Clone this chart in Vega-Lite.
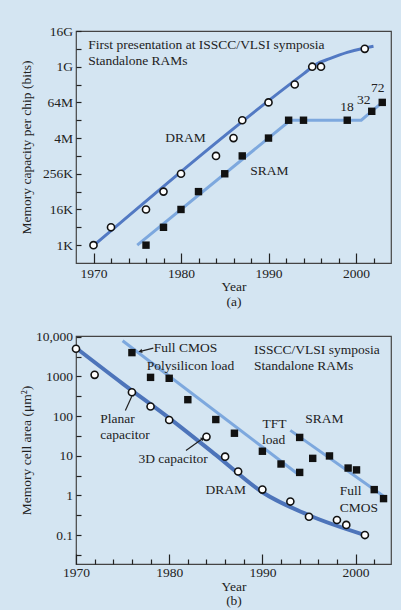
{
  "$schema": "https://vega.github.io/schema/vega-lite/v6.json",
  "background": "#d4e5f2",
  "padding": {"left": 18, "top": 23, "right": 8, "bottom": 2},
  "config": {
    "font": "Liberation Serif",
    "view": {"stroke": "#444", "strokeWidth": 1.2},
    "axis": {
      "labelFont": "Liberation Serif", "titleFont": "Liberation Serif",
      "labelFontSize": 13.5, "titleFontSize": 13.5, "titleFontWeight": "normal",
      "labelColor": "#222", "titleColor": "#222", "labelOverlap": false, "labelFlush": false,
      "domain": false, "grid": false, "tickColor": "#222", "tickWidth": 1.2
    },
    "text": {"font": "Liberation Serif", "fontSize": 13.5, "color": "#222"},
    "concat": {"spacing": 20}
  },
  "datasets": {
    "capDram": [
      {"year": 1970, "bits": 1024}, {"year": 1972, "bits": 4096}, {"year": 1976, "bits": 16384},
      {"year": 1978, "bits": 65536}, {"year": 1980, "bits": 262144}, {"year": 1984, "bits": 1048576},
      {"year": 1986, "bits": 4194304}, {"year": 1987, "bits": 16777216}, {"year": 1990, "bits": 67108864},
      {"year": 1993, "bits": 268435456}, {"year": 1995, "bits": 1073741824}, {"year": 1996, "bits": 1073741824},
      {"year": 2001, "bits": 4294967296}
    ],
    "capSram": [
      {"year": 1976, "bits": 1024}, {"year": 1978, "bits": 4096}, {"year": 1980, "bits": 16384},
      {"year": 1982, "bits": 65536}, {"year": 1985, "bits": 262144}, {"year": 1987, "bits": 1048576},
      {"year": 1990, "bits": 4194304}, {"year": 1992.3, "bits": 16777216}, {"year": 1994, "bits": 16777216},
      {"year": 1999, "bits": 16777216}, {"year": 2001.8, "bits": 33554432}, {"year": 2003, "bits": 67108864}
    ],
    "capFitDram": [
      {"year": 1970.3, "bits": 1176}, {"year": 1994, "bits": 616700000}, {"year": 1995.5, "bits": 1321900000},
      {"year": 1997, "bits": 2003700000}, {"year": 1999, "bits": 3255000000}, {"year": 2001, "bits": 4603400000},
      {"year": 2002, "bits": 5287600000}
    ],
    "capFitSram": [
      {"year": 1975, "bits": 1024}, {"year": 1992.5, "bits": 16777216}, {"year": 2000.6, "bits": 16777216},
      {"year": 2003, "bits": 67108864}
    ],
    "capText": [
      {"year": 1969.4, "bits": 5780000000, "text": "First presentation at ISSCC/VLSI symposia"},
      {"year": 1969.4, "bits": 1670000000, "text": "Standalone RAMs"},
      {"year": 1978.2, "bits": 4340000, "text": "DRAM"},
      {"year": 1987.9, "bits": 327000, "text": "SRAM"},
      {"year": 1998.2, "bits": 48100000, "text": "18"},
      {"year": 2000.1, "bits": 82600000, "text": "32"},
      {"year": 2001.7, "bits": 210000000, "text": "72"}
    ],
    "areaDram": [
      {"year": 1970, "area": 5000}, {"year": 1972, "area": 1100}, {"year": 1976, "area": 400},
      {"year": 1978, "area": 175}, {"year": 1980, "area": 80}, {"year": 1984, "area": 30},
      {"year": 1986, "area": 9.5}, {"year": 1987.4, "area": 4}, {"year": 1990, "area": 1.4},
      {"year": 1993, "area": 0.7}, {"year": 1995, "area": 0.29}, {"year": 1998, "area": 0.24},
      {"year": 1999, "area": 0.18}, {"year": 2001, "area": 0.1}
    ],
    "areaSram": [
      {"year": 1976, "area": 4000}, {"year": 1978, "area": 950}, {"year": 1980, "area": 900},
      {"year": 1982, "area": 260}, {"year": 1985, "area": 82}, {"year": 1987, "area": 37},
      {"year": 1990, "area": 13}, {"year": 1992, "area": 6.2}, {"year": 1994, "area": 3.8},
      {"year": 1994, "area": 29}, {"year": 1995.4, "area": 8.6}, {"year": 1997.2, "area": 9.9},
      {"year": 1999.2, "area": 4.9}, {"year": 2000.1, "area": 4.4}, {"year": 2002, "area": 1.4},
      {"year": 2003, "area": 0.83}
    ],
    "areaFitDram": [
      {"year": 1970, "area": 5250}, {"year": 1975, "area": 661}, {"year": 1980, "area": 89},
      {"year": 1985, "area": 10.5}, {"year": 1990, "area": 1.2}, {"year": 1995, "area": 0.316},
      {"year": 2001, "area": 0.1}
    ],
    "areaFitSram": [
      {"series": "poly", "year": 1975, "area": 7943}, {"series": "poly", "year": 1993.8, "area": 3.47},
      {"series": "cmos", "year": 1993, "area": 43.7}, {"series": "cmos", "year": 2003.2, "area": 0.89}
    ],
    "areaArrows": [
      {"year": 1976.9, "area": 4300, "year2": 1978.3, "area2": 5200, "angle": 256},
      {"year": 1976.1, "area": 363, "year2": 1975.3, "area2": 138, "angle": 25},
      {"year": 1983.6, "area": 27.3, "year2": 1981.8, "area2": 13.5, "angle": 55}
    ],
    "areaText": [
      {"year": 1978.35, "area": 5240, "text": "Full CMOS"},
      {"year": 1977.6, "area": 1807, "text": "Polysilicon load"},
      {"year": 1989.1, "area": 4760, "text": "ISSCC/VLSI symposia"},
      {"year": 1989.1, "area": 1870, "text": "Standalone RAMs"},
      {"year": 1972.6, "area": 85, "text": "Planar"},
      {"year": 1972.6, "area": 33, "text": "capacitor"},
      {"year": 1976.7, "area": 8.07, "text": "3D capacitor"},
      {"year": 1983.9, "area": 1.34, "text": "DRAM"},
      {"year": 1990.0, "area": 65, "text": "TFT"},
      {"year": 1989.95, "area": 25.7, "text": "load"},
      {"year": 1994.6, "area": 85, "text": "SRAM"},
      {"year": 1998.3, "area": 1.26, "text": "Full"},
      {"year": 1998.3, "area": 0.49, "text": "CMOS"}
    ]
  },
  "vconcat": [
    {
      "width": 315,
      "height": 232,
      "resolve": {"axis": {"x": "independent"}},
      "layer": [
        {
          "data": {"name": "capFitDram"},
          "mark": {"type": "line", "color": "#5279c3", "strokeWidth": 3, "interpolate": "monotone"},
          "encoding": {
            "x": {
              "field": "year", "type": "quantitative",
              "scale": {"domain": [1968, 2004], "nice": false, "zero": false},
              "axis": {
                "orient": "bottom",
                "values": [1970, 1980, 1990, 2000],
                "format": "d",
                "tickSize": -10,
                "labelPadding": 13.5,
                "title": ["Year", "(a)"],
                "titlePadding": -1,
                "titleLineHeight": 15
              }
            },
            "y": {
              "field": "bits", "type": "quantitative",
              "scale": {"type": "log", "base": 2, "domain": [256, 17179869184], "nice": false},
              "axis": {
                "values": [1024, 4096, 16384, 65536, 262144, 1048576, 4194304, 16777216, 67108864, 268435456, 1073741824, 4294967296, 17179869184],
                "labelExpr": "datum.value == 1024 ? '1K' : datum.value == 16384 ? '16K' : datum.value == 262144 ? '256K' : datum.value == 4194304 ? '4M' : datum.value == 67108864 ? '64M' : datum.value == 1073741824 ? '1G' : datum.value == 17179869184 ? '16G' : ''",
                "tickSize": -5,
                "labelPadding": 8.5,
                "title": "Memory capacity per chip (bits)",
                "titlePadding": 9
              }
            }
          }
        },
        {
          "data": {"name": "capFitSram"},
          "mark": {"type": "line", "color": "#7da8de", "strokeWidth": 3},
          "encoding": {
            "x": {
              "field": "year", "type": "quantitative",
              "axis": {
                "orient": "bottom",
                "values": [1972, 1974, 1976, 1978, 1982, 1984, 1986, 1988, 1992, 1994, 1996, 1998, 2002],
                "tickSize": -5,
                "labels": false,
                "title": null
              }
            },
            "y": {"field": "bits", "type": "quantitative"}
          }
        },
        {
          "data": {"name": "capSram"},
          "mark": {"type": "point", "shape": "square", "filled": true, "color": "#111", "size": 55, "opacity": 1},
          "encoding": {
            "x": {"field": "year", "type": "quantitative", "axis": null},
            "y": {"field": "bits", "type": "quantitative"}
          }
        },
        {
          "data": {"name": "capDram"},
          "mark": {"type": "point", "shape": "circle", "filled": true, "fill": "white", "stroke": "#111", "strokeWidth": 1.6, "size": 50, "opacity": 1},
          "encoding": {
            "x": {"field": "year", "type": "quantitative", "axis": null},
            "y": {"field": "bits", "type": "quantitative"}
          }
        },
        {
          "data": {"name": "capText"},
          "mark": {"type": "text", "align": "left", "baseline": "middle"},
          "encoding": {
            "x": {"field": "year", "type": "quantitative", "axis": null},
            "y": {"field": "bits", "type": "quantitative"},
            "text": {"field": "text"}
          }
        }
      ]
    },
    {
      "width": 315,
      "height": 228,
      "resolve": {"axis": {"x": "independent"}},
      "layer": [
        {
          "data": {"name": "areaFitDram"},
          "mark": {"type": "line", "color": "#4d74ba", "strokeWidth": 4, "interpolate": "monotone"},
          "encoding": {
            "x": {
              "field": "year", "type": "quantitative",
              "scale": {"domain": [1970, 2003.8], "nice": false, "zero": false},
              "axis": {
                "orient": "bottom",
                "values": [1970, 1980, 1990, 2000],
                "format": "d",
                "tickSize": -10,
                "labelPadding": 11.5,
                "title": ["Year", "(b)"],
                "titlePadding": 0,
                "titleLineHeight": 14.5
              }
            },
            "y": {
              "field": "area", "type": "quantitative",
              "scale": {"type": "log", "domain": [0.0186, 10500], "nice": false},
              "axis": {
                "values": [0.0316, 0.1, 0.316, 1, 3.16, 10, 31.6, 100, 316, 1000, 3160, 10000],
                "labelExpr": "datum.value == 0.1 ? '0.1' : datum.value == 1 ? '1' : datum.value == 10 ? '10' : datum.value == 100 ? '100' : datum.value == 1000 ? '1000' : datum.value == 10000 ? '10,000' : ''",
                "tickSize": -5,
                "labelPadding": 8.5,
                "title": "Memory cell area (μm²)",
                "titlePadding": 2
              }
            }
          }
        },
        {
          "data": {"name": "areaFitSram"},
          "mark": {"type": "line", "color": "#7da8de", "strokeWidth": 3},
          "encoding": {
            "x": {
              "field": "year", "type": "quantitative",
              "axis": {
                "orient": "bottom",
                "values": [1972, 1974, 1976, 1978, 1982, 1984, 1986, 1988, 1992, 1994, 1996, 1998, 2002],
                "tickSize": -5,
                "labels": false,
                "title": null
              }
            },
            "y": {"field": "area", "type": "quantitative"},
            "detail": {"field": "series"}
          }
        },
        {
          "data": {"name": "areaArrows"},
          "mark": {"type": "rule", "color": "#222", "strokeWidth": 1.2},
          "encoding": {
            "x": {"field": "year", "type": "quantitative", "axis": null},
            "y": {"field": "area", "type": "quantitative"},
            "x2": {"field": "year2"},
            "y2": {"field": "area2"}
          }
        },
        {
          "data": {"name": "areaArrows"},
          "mark": {"type": "point", "shape": "triangle-up", "filled": true, "color": "#222", "size": 18, "opacity": 1},
          "encoding": {
            "x": {"field": "year", "type": "quantitative", "axis": null},
            "y": {"field": "area", "type": "quantitative"},
            "angle": {"field": "angle", "type": "quantitative", "scale": null}
          }
        },
        {
          "data": {"name": "areaSram"},
          "mark": {"type": "point", "shape": "square", "filled": true, "color": "#111", "size": 55, "opacity": 1},
          "encoding": {
            "x": {"field": "year", "type": "quantitative", "axis": null},
            "y": {"field": "area", "type": "quantitative"}
          }
        },
        {
          "data": {"name": "areaDram"},
          "mark": {"type": "point", "shape": "circle", "filled": true, "fill": "white", "stroke": "#111", "strokeWidth": 1.6, "size": 50, "opacity": 1},
          "encoding": {
            "x": {"field": "year", "type": "quantitative", "axis": null},
            "y": {"field": "area", "type": "quantitative"}
          }
        },
        {
          "data": {"name": "areaText"},
          "mark": {"type": "text", "align": "left", "baseline": "middle"},
          "encoding": {
            "x": {"field": "year", "type": "quantitative", "axis": null},
            "y": {"field": "area", "type": "quantitative"},
            "text": {"field": "text"}
          }
        }
      ]
    }
  ]
}
